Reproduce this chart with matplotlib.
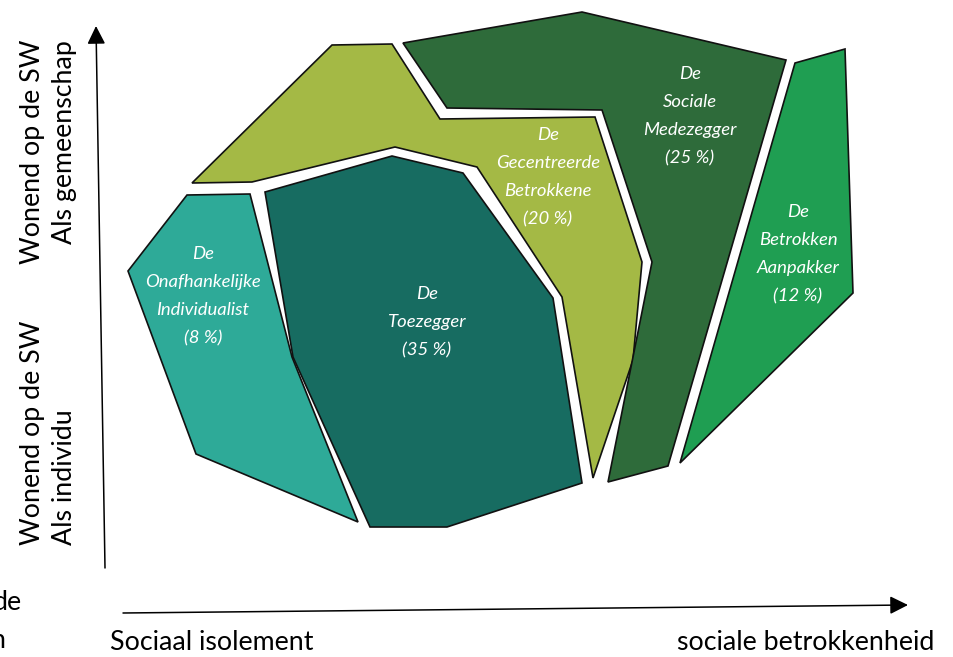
import matplotlib
matplotlib.use("Agg")
import matplotlib.pyplot as plt
from matplotlib.patches import Polygon

# segments: name lines, share, fill colour, outline (pixel coords, y down)
names = [['De', 'Onafhankelijke', 'Individualist'],
         ['De', 'Toezegger'],
         ['De', 'Gecentreerde', 'Betrokkene'],
         ['De', 'Sociale', 'Medezegger'],
         ['De', 'Betrokken', 'Aanpakker']]
shares = [8, 35, 20, 25, 12]
colors = ['#2eaa98', '#176c61', '#a4b945', '#2e6b3a', '#1f9e52']

outlines = [
    [(187, 195), (250, 194), (292, 357), (358, 522), (196, 454), (128, 271)],
    [(265, 192), (392, 156), (463, 173), (553, 298), (582, 483), (447, 527),
     (370, 527), (293, 357)],
    [(192, 183), (332, 45), (392, 44), (440, 119), (595, 117), (642, 262),
     (633, 360), (593, 478), (562, 297), (477, 167), (395, 147), (252, 182)],
    [(403, 43), (582, 12), (786, 60), (668, 466), (608, 482), (652, 262),
     (602, 110), (447, 108)],
    [(795, 63), (845, 49), (853, 293), (680, 463)],
]
# label centres (first line) per segment
label_pos = [(203, 254), (427, 294), (548, 135), (690, 74), (798, 212)]

# (text, x, y, vertical alignment)
y_axis_labels = [('Wonend op de SW', 33, 40, 'top'), ('Als gemeenschap', 65, 40, 'top'),
                 ('Wonend op de SW', 33, 545, 'bottom'), ('Als individu', 65, 545, 'bottom')]
x_axis_labels = [('Sociaal isolement', 110), ('sociale betrokkenheid', 677)]

fig = plt.figure(figsize=(9.54, 6.57), dpi=100)
ax = fig.add_axes([0, 0, 1, 1])
ax.set_xlim(0, 954)
ax.set_ylim(657, 0)
ax.axis('off')

for pts, col in zip(outlines, colors):
    ax.add_patch(Polygon(pts, closed=True, facecolor=col, edgecolor='#111111',
                         lw=1.2, joinstyle='miter'))

for lines, share, (x, y) in zip(names, shares, label_pos):
    for i, t in enumerate(lines + ['(%d %%)' % share]):
        ax.text(x, y + i * 28, t, color='white', style='italic', family='Lato',
                fontsize=13.3, ha='center', va='center')

# axes arrows
ax.annotate('', xy=(96, 26), xytext=(105, 568),
            arrowprops=dict(arrowstyle='-|>,head_length=1.1,head_width=0.55',
                            mutation_scale=10, lw=1.1, color='black',
                            shrinkA=0, shrinkB=0))
ax.annotate('', xy=(908, 605), xytext=(123, 613),
            arrowprops=dict(arrowstyle='-|>,head_length=1.1,head_width=0.55',
                            mutation_scale=10, lw=1.1, color='black',
                            shrinkA=0, shrinkB=0))

for t, x, y, va in y_axis_labels:
    ax.text(x, y, t, rotation=90, ha='center', va=va, family='Lato',
            fontsize=19.3, color='black')
for t, x in x_axis_labels:
    ax.text(x, 643, t, ha='left', va='center', family='Lato', fontsize=19.3,
            color='black')

# text cut by the left edge, as in the source picture
ax.text(22, 602, 'de', ha='right', va='center', family='Lato', fontsize=19.3)
ax.text(5, 641, 'n', ha='right', va='center', family='Lato', fontsize=19.3)

plt.savefig('out.png', dpi=100)
